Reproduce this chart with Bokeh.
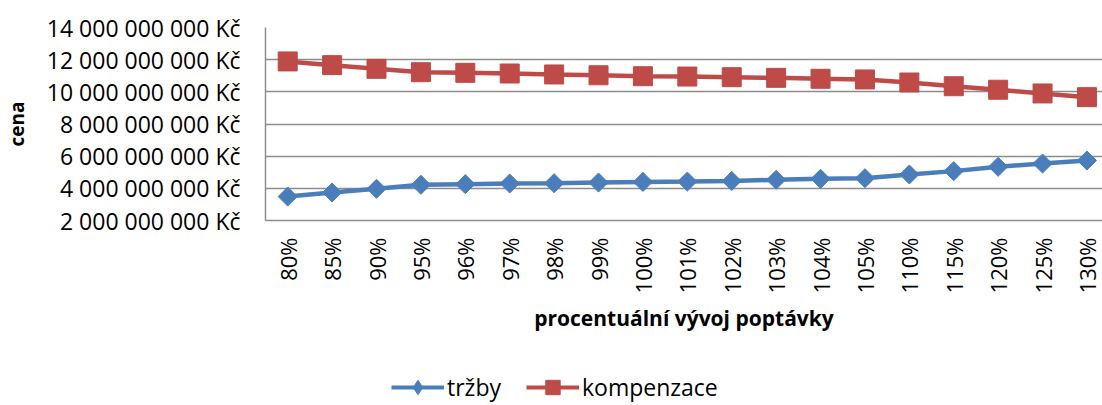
import math
from bokeh.plotting import figure
from bokeh.layouts import column
from bokeh.models import FixedTicker, Legend, LegendItem, Range1d
from bokeh.embed import file_html
from bokeh.resources import INLINE

categories = ["80%", "85%", "90%", "95%", "96%", "97%", "98%", "99%", "100%", "101%",
              "102%", "103%", "104%", "105%", "110%", "115%", "120%", "125%", "130%"]
trzby = [3.49e9, 3.74e9, 3.97e9, 4.22e9, 4.26e9, 4.30e9, 4.32e9, 4.36e9, 4.40e9, 4.42e9,
         4.46e9, 4.53e9, 4.59e9, 4.63e9, 4.86e9, 5.07e9, 5.34e9, 5.54e9, 5.73e9]
kompenzace = [11.89e9, 11.66e9, 11.43e9, 11.22e9, 11.18e9, 11.14e9, 11.08e9, 11.03e9, 10.97e9, 10.95e9,
              10.91e9, 10.87e9, 10.81e9, 10.77e9, 10.58e9, 10.35e9, 10.13e9, 9.90e9, 9.67e9]
y_ticks = [2e9, 4e9, 6e9, 8e9, 10e9, 12e9, 14e9]
y_tick_labels = ["2 000 000 000 Kč", "4 000 000 000 Kč", "6 000 000 000 Kč", "8 000 000 000 Kč",
                 "10 000 000 000 Kč", "12 000 000 000 Kč", "14 000 000 000 Kč"]

BLUE = "#4A7EBB"
RED = "#BE4B48"
GRID = "#8C8C8C"
FONT = "Open Sans"

xs = list(range(len(categories)))

p = figure(width=1102, height=345, output_backend="svg", toolbar_location=None,
           x_range=Range1d(-0.5, 18.35), y_range=Range1d(2e9, 14e9),
           min_border_left=264, min_border_right=0, min_border_top=27, min_border_bottom=125)
p.outline_line_color = None
p.background_fill_color = "white"
p.border_fill_color = "white"

# grid
p.xgrid.grid_line_color = None
p.ygrid.ticker = FixedTicker(ticks=y_ticks)
p.ygrid.grid_line_color = GRID
p.ygrid.grid_line_width = 1.5

# y axis
p.yaxis.ticker = FixedTicker(ticks=y_ticks)
p.yaxis.major_label_overrides = {t: l for t, l in zip(y_ticks, y_tick_labels)}
p.yaxis.major_tick_out = 0
p.yaxis.major_tick_in = 0
p.yaxis.minor_tick_out = 0
p.yaxis.minor_tick_in = 0
p.yaxis.major_label_standoff = 25
p.yaxis.axis_line_color = GRID
p.yaxis.axis_line_width = 1.5
p.yaxis.major_label_text_font = FONT
p.yaxis.major_label_text_font_size = "23px"
p.yaxis.major_label_text_color = "black"
p.yaxis.axis_label = "cena"
p.yaxis.axis_label_text_font = FONT
p.yaxis.axis_label_text_font_style = "bold"
p.yaxis.axis_label_text_font_size = "19px"
p.yaxis.axis_label_text_color = "black"
p.yaxis.axis_label_standoff = 14

# x axis
p.xaxis.ticker = FixedTicker(ticks=xs)
p.xaxis.major_label_overrides = {i: c for i, c in zip(xs, categories)}
p.xaxis.major_label_orientation = math.pi / 2
p.xaxis.major_tick_out = 0
p.xaxis.major_tick_in = 0
p.xaxis.minor_tick_out = 0
p.xaxis.minor_tick_in = 0
p.xaxis.major_label_standoff = 17
p.xaxis.axis_line_color = GRID
p.xaxis.axis_line_width = 1.5
p.xaxis.major_label_text_font = FONT
p.xaxis.major_label_text_font_size = "22px"
p.xaxis.major_label_text_color = "black"
p.xaxis.axis_label = "procentuální vývoj poptávky"
p.xaxis.axis_label_text_font = FONT
p.xaxis.axis_label_text_font_style = "bold"
p.xaxis.axis_label_text_font_size = "21px"
p.xaxis.axis_label_text_color = "black"
p.xaxis.axis_label_standoff = 8

# series
p.line(xs, trzby, line_color=BLUE, line_width=4.5)
p.scatter(xs, trzby, marker="square", angle=math.pi / 4, size=13.5,
          fill_color=BLUE, line_color=BLUE)
p.line(xs, kompenzace, line_color=RED, line_width=4.5)
p.scatter(xs, kompenzace, marker="square", size=19, fill_color=RED, line_color=RED)

# legend strip (separate figure below the chart; its series sit outside its view)
lf = figure(width=1102, height=60, output_backend="svg", toolbar_location=None,
            x_range=Range1d(100, 101), y_range=Range1d(0, 1),
            min_border_left=0, min_border_right=0, min_border_top=0, min_border_bottom=0)
lf.axis.visible = False
lf.grid.visible = False
lf.outline_line_color = None
lf.background_fill_color = "white"
lf.border_fill_color = "white"
ll1 = lf.line(xs, trzby, line_color=BLUE, line_width=4)
ls1 = lf.scatter(xs, trzby, marker="diamond", size=15,
                 fill_color=BLUE, line_color=BLUE)
ll2 = lf.line(xs, kompenzace, line_color=RED, line_width=4)
ls2 = lf.scatter(xs, kompenzace, marker="square", size=15, fill_color=RED, line_color=RED)

legend = Legend(items=[LegendItem(label="tržby", renderers=[ll1, ls1]),
                       LegendItem(label="kompenzace", renderers=[ll2, ls2])],
                location=(126, 0), orientation="horizontal")
legend.padding = 0
legend.margin = 0
legend.spacing = 25
legend.glyph_width = 53
legend.glyph_height = 36
legend.label_standoff = 3
legend.border_line_color = None
legend.background_fill_alpha = 0
legend.label_text_font = FONT
legend.label_text_font_size = "23px"
legend.label_text_color = "black"
lf.add_layout(legend)

layout = column(p, lf, spacing=0)
open("out.html", "w").write(file_html(layout, INLINE))
